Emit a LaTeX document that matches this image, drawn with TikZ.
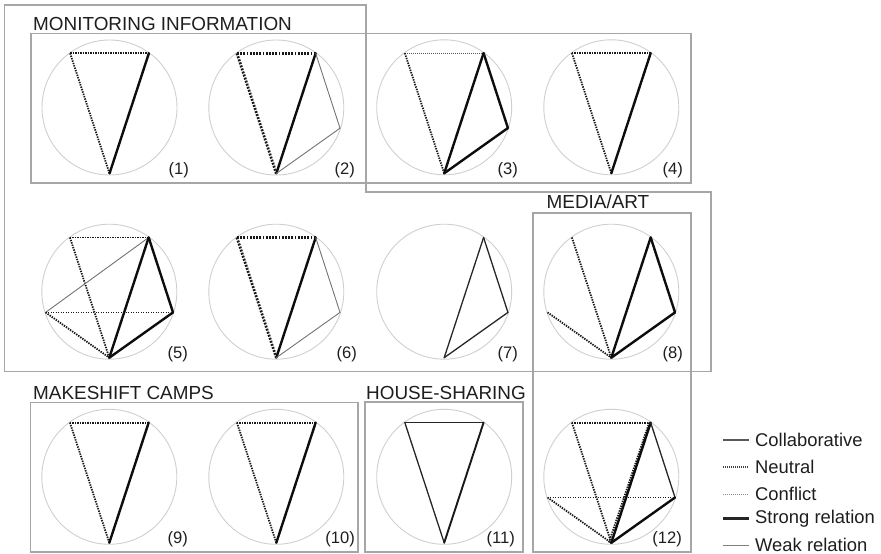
\documentclass[tikz,border=0pt]{standalone}
\usepackage{fontspec}
\setmainfont{Liberation Sans}
\usetikzlibrary{calc}
\definecolor{boxgray}{HTML}{A6A6A6}
\definecolor{ringgray}{HTML}{CFCFCF}
\definecolor{txt}{HTML}{1E1E1E}
\tikzset{
  ringc/.style={circle,draw=ringgray,line width=0.9pt,minimum size=135pt,inner sep=0pt,outer sep=0pt},
  frame/.style={draw=boxgray,line width=1.1pt},
  strong/.style={line width=2.4pt,black!95,line cap=round},
  weak/.style={line width=0.9pt,black!55,line cap=round},
  coll/.style={line width=1.3pt,black!85,line cap=round},
  collm/.style={line width=1.9pt,black!90,line cap=round},
  neu/.style={line width=1.8pt,black!90,dash pattern=on 1.4pt off 1.1pt},
  neus/.style={line width=2.7pt,black!90,dash pattern=on 1.9pt off 1.3pt},
  con/.style={line width=1.1pt,black!65,dash pattern=on 1pt off 1pt},
  title/.style={anchor=base west,inner sep=0pt,font=\fontsize{18.9}{20}\selectfont,text=txt},
  num/.style={anchor=base east,inner sep=0pt,font=\fontsize{16.6}{18}\selectfont,text=txt},
  legtext/.style={anchor=west,inner sep=0pt,font=\fontsize{18.4}{20}\selectfont,text=txt},
}
\newcommand\mkring[3]{%
  \node[ringc] (#1) at (#2,#3) {};
  \coordinate (#1a) at ($(#1)+(54:67pt)$);
  \coordinate (#1b) at ($(#1)+(126:67pt)$);
  \coordinate (#1c) at ($(#1)+(198:67pt)$);
  \coordinate (#1d) at ($(#1)+(270:66pt)$);
  \coordinate (#1e) at ($(#1)+(342:67pt)$);
}
\begin{document}
\begin{tikzpicture}[x=1pt,y=-1pt]
\useasboundingbox (0,0) rectangle (881,554);
% frames
\draw[frame] (4.5,5) -- (366,5) -- (366,192) -- (711,192) -- (711,371.5) -- (4.5,371.5) -- cycle;
\draw[frame] (31,33.3) rectangle (691,183);
\draw[frame] (533,213) rectangle (691,552);
\draw[frame] (30.7,402.3) rectangle (358,552);
\draw[frame] (365,402) rectangle (523,552);
% titles
\node[title] (t1) at (33,30.5) {MONITORING INFORMATION};
\node[title] (t2) at (33,399) {MAKESHIFT CAMPS};
\node[title] (t3) at (366,399) {HOUSE-SHARING};
\node[title] (t4) at (546.5,208.5) {MEDIA/ART};
% rings
\mkring{k1}{109.5}{107.5}
\mkring{k2}{276.3}{107.5}
\mkring{k3}{444.2}{107.3}
\mkring{k4}{611.3}{107.3}
\mkring{k5}{109.3}{291.7}
\mkring{k6}{276.3}{291.7}
\mkring{k7}{444.2}{291.7}
\mkring{k8}{611.3}{291.7}
\mkring{k9}{109.3}{476.8}
\mkring{k10}{276.3}{476.8}
\mkring{k11}{444.2}{476.8}
\mkring{k12}{611.3}{476.8}
% (1)
\draw[neu] (k1b) -- (k1a);
\draw[neu] (k1b) -- (k1d);
\draw[strong] (k1a) -- (k1d);
% (2)
\draw[neus] (k2b) -- (k2a);
\draw[neus] (k2b) -- (k2d);
\draw[strong] (k2a) -- (k2d);
\draw[weak] (k2a) -- (k2e);
\draw[weak] (k2e) -- (k2d);
% (3)
\draw[con] (k3b) -- (k3a);
\draw[neu] (k3b) -- (k3d);
\draw[strong] (k3a) -- (k3d);
\draw[strong] (k3a) -- (k3e);
\draw[strong] (k3e) -- (k3d);
% (4)
\draw[neu] (k4b) -- (k4a);
\draw[neu] (k4b) -- (k4d);
\draw[strong] (k4a) -- (k4d);
% (5)
\draw[neu] (k5b) -- (k5a);
\draw[neu] (k5b) -- (k5d);
\draw[weak] (k5c) -- (k5a);
\draw[neu] (k5c) -- (k5e);
\draw[neu] (k5c) -- (k5d);
\draw[strong] (k5a) -- (k5d);
\draw[strong] (k5a) -- (k5e);
\draw[strong] (k5e) -- (k5d);
% (6)
\draw[neus] (k6b) -- (k6a);
\draw[neus] (k6b) -- (k6d);
\draw[strong] (k6a) -- (k6d);
\draw[weak] (k6a) -- (k6e);
\draw[weak] (k6e) -- (k6d);
% (7)
\draw[coll] (k7a) -- (k7d);
\draw[coll] (k7a) -- (k7e);
\draw[coll] (k7e) -- (k7d);
% (8)
\draw[neu] (k8b) -- (k8d);
\draw[neu] (k8c) -- (k8d);
\draw[strong] (k8a) -- (k8d);
\draw[strong] (k8a) -- (k8e);
\draw[strong] (k8e) -- (k8d);
% (9)
\draw[neu] (k9b) -- (k9a);
\draw[neu] (k9b) -- (k9d);
\draw[strong] (k9a) -- (k9d);
% (10)
\draw[neu] (k10b) -- (k10a);
\draw[neu] (k10b) -- (k10d);
\draw[strong] (k10a) -- (k10d);
% (11)
\draw[coll] (k11b) -- (k11a);
\draw[coll] (k11b) -- (k11d);
\draw[collm] (k11a) -- (k11d);
% (12)
\draw[neu] (k12b) -- (k12a);
\draw[neu] (k12b) -- (k12d);
\draw[neu] (k12c) -- (k12e);
\draw[neu] (k12c) -- (k12d);
\draw[neu] ([xshift=-1.5pt]k12a) -- ([xshift=-2.5pt]k12d);
\draw[strong] (k12a) -- (k12d);
\draw[coll] (k12a) -- (k12e);
\draw[strong] (k12e) -- (k12d);
% numbers
\node[num] (n1) at (189,174) {(1)};
\node[num] (n2) at (355,174) {(2)};
\node[num] (n3) at (518,174) {(3)};
\node[num] (n4) at (683,174) {(4)};
\node[num] (n5) at (188,358) {(5)};
\node[num] (n6) at (357,358) {(6)};
\node[num] (n7) at (518,358) {(7)};
\node[num] (n8) at (683,358) {(8)};
\node[num] (n9) at (188,543.5) {(9)};
\node[num] (n10) at (355,543.5) {(10)};
\node[num] (n11) at (515,543.5) {(11)};
\node[num] (n12) at (682,543.5) {(12)};
% legend
\coordinate (l1a) at (723,440); \coordinate (l1b) at (749,440);
\coordinate (l2a) at (723,467); \coordinate (l2b) at (749,467);
\coordinate (l3a) at (723,494); \coordinate (l3b) at (749,494);
\coordinate (l4a) at (723,518.5); \coordinate (l4b) at (749,518.5);
\coordinate (l5a) at (723,545); \coordinate (l5b) at (749,545);
\draw[line width=1.2pt,black!65] (l1a) -- (l1b);
\draw[line width=1.1pt,black!75,dash pattern=on 1pt off 1pt] (l2a) -- (l2b);
\draw[line width=0.9pt,black!45,dash pattern=on 1pt off 1pt] (l3a) -- (l3b);
\draw[line width=2.6pt,black!85] (l4a) -- (l4b);
\draw[line width=0.9pt,black!50] (l5a) -- (l5b);
\node[legtext] (g1) at (755,440) {Collaborative};
\node[legtext] (g2) at (755,467) {Neutral};
\node[legtext] (g3) at (755,494) {Conflict};
\node[legtext] (g4) at (755,518.5) {Strong relation};
\node[legtext] (g5) at (755,545) {Weak relation};
\end{tikzpicture}
\end{document}
